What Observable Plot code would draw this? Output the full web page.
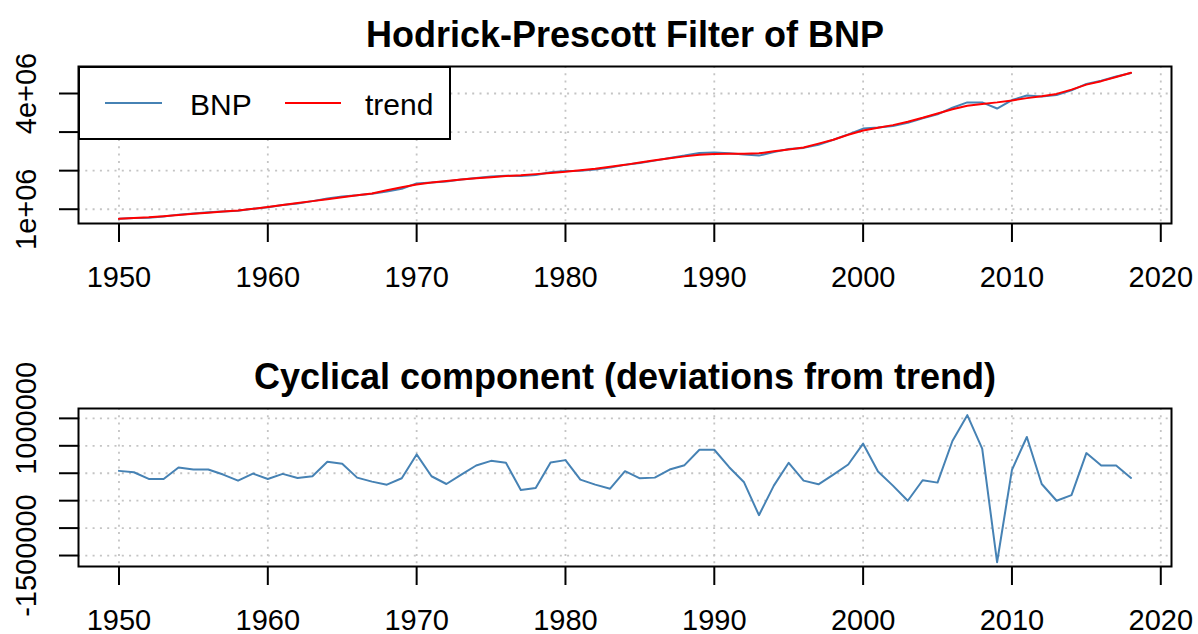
<!DOCTYPE html>
<html>
<head>
<meta charset="utf-8">
<script src="https://cdn.jsdelivr.net/npm/d3@7"></script>
<script src="https://cdn.jsdelivr.net/npm/@observablehq/plot@0.6"></script>
<style>
  html, body { margin: 0; padding: 0; background: white; }
  #chart { position: relative; width: 1198px; height: 634px; font-family: "Liberation Sans", Arial, Helvetica, sans-serif; }
  .panel { position: absolute; left: 0; }
  #legend { position: absolute; left: 78px; top: 66px; width: 373px; height: 74px; box-sizing: border-box; border: 2px solid black; background: white; }
</style>
</head>
<body>
<div id="chart">
  <div class="panel" id="topPanel" style="top:0"></div>
  <div class="panel" id="botPanel" style="top:317px"></div>
  <div id="legend"></div>
</div>
<script>
// ---------------- data ----------------
const years = d3.range(1950, 2019);

// Hodrick-Prescott trend
const trendValues = [
  0.75e6, 0.77e6, 0.79e6, 0.82e6, 0.85e6, 0.88e6, 0.91e6, 0.94e6, 0.97e6, 1.01e6,
  1.06e6, 1.11e6, 1.16e6, 1.21e6, 1.26e6, 1.31e6, 1.36e6, 1.41e6, 1.49e6, 1.57e6,
  1.64e6, 1.69e6, 1.73e6, 1.77e6, 1.80e6, 1.83e6, 1.86e6, 1.88e6, 1.91e6, 1.94e6,
  1.97e6, 2.01e6, 2.05e6, 2.10e6, 2.15e6, 2.21e6, 2.27e6, 2.32e6, 2.37e6, 2.41e6,
  2.43e6, 2.44e6, 2.44e6, 2.45e6, 2.50e6, 2.55e6, 2.60e6, 2.70e6, 2.80e6, 2.93e6,
  3.04e6, 3.11e6, 3.18e6, 3.27e6, 3.37e6, 3.48e6, 3.59e6, 3.68e6, 3.73e6, 3.77e6,
  3.82e6, 3.88e6, 3.93e6, 3.99e6, 4.10e6, 4.23e6, 4.32e6, 4.43e6, 4.54e6
];

// BNP
const bnpValues = [
  0.75e6, 0.77e6, 0.78e6, 0.81e6, 0.86e6, 0.89e6, 0.92e6, 0.94e6, 0.96e6, 1.01e6,
  1.05e6, 1.11e6, 1.15e6, 1.21e6, 1.28e6, 1.33e6, 1.36e6, 1.40e6, 1.46e6, 1.53e6,
  1.67e6, 1.69e6, 1.72e6, 1.77e6, 1.81e6, 1.85e6, 1.87e6, 1.86e6, 1.89e6, 1.96e6,
  1.99e6, 2.00e6, 2.03e6, 2.08e6, 2.15e6, 2.20e6, 2.26e6, 2.33e6, 2.39e6, 2.46e6,
  2.47e6, 2.45e6, 2.42e6, 2.39e6, 2.48e6, 2.56e6, 2.59e6, 2.67e6, 2.80e6, 2.94e6,
  3.09e6, 3.12e6, 3.16e6, 3.24e6, 3.36e6, 3.46e6, 3.63e6, 3.77e6, 3.77e6, 3.61e6,
  3.83e6, 3.95e6, 3.92e6, 3.96e6, 4.08e6, 4.25e6, 4.33e6, 4.44e6, 4.53e6
];

// Cyclical component
const cycleValues = [
    43000,   18000, -104000, -104000,  104000,   67000,   67000,  -24000, -135000,   -6000,
  -104000,  -12000,  -86000,  -55000,  208000,  171000,  -80000, -153000, -208000,  -92000,
   343000,  -55000, -196000,  -24000,  141000,  226000,  190000, -306000, -269000,  196000,
   239000, -116000, -208000, -282000,   37000,  -92000,  -80000,   67000,  147000,  428000,
   428000,  110000, -165000, -765000, -226000,  190000, -135000, -202000,  -24000,  159000,
   539000,   31000, -226000, -502000, -128000, -171000,  588000, 1059000,  447000, -1622000,
    61000,  661000, -196000, -502000, -398000,  367000,  141000,  141000,  -86000
];

const seriesNames = ["BNP", "trend"];
const seriesColors = ["steelblue", "red"];

const xTicks = [1950, 1960, 1970, 1980, 1990, 2000, 2010, 2020];
const topYTicks = [1e6, 2e6, 3e6, 4e6];
const topYLabelValues = [1e6, 4e6];
const topYLabelTexts = ["1e+06", "4e+06"];
const botYTicks = [-1500000, -1000000, -500000, 0, 500000, 1000000];
const botYLabelValues = [1000000, -1500000];
const botYLabelTexts = ["1000000", "-1500000"];

const topTitle = "Hodrick-Prescott Filter of BNP";
const botTitle = "Cyclical component (deviations from trend)";

// ---------------- tables ----------------
const bnpData = years.map((y, i) => ({year: y, value: bnpValues[i]}));
const trendData = years.map((y, i) => ({year: y, value: trendValues[i]}));
const cycleData = years.map((y, i) => ({year: y, value: cycleValues[i]}));

const FONT = '"Liberation Sans", Arial, Helvetica, sans-serif';
const gridStyle = {stroke: "#c4c4c4", strokeWidth: 1.8, strokeDasharray: "2,5.3"};
const xDomain = [1947.28, 2020.72];

function panel({yDomain, yTicks, labelValues, labelTexts, title, marginTop, marginBottom, lines}) {
  return Plot.plot({
    width: 1198,
    height: 317,
    marginLeft: 78,
    marginRight: 27,
    marginTop,
    marginBottom,
    x: {domain: xDomain, label: null},
    y: {domain: yDomain, label: null},
    style: {fontFamily: FONT, fontSize: "29px", color: "black", background: "white", overflow: "visible"},
    marks: [
      Plot.ruleX(xTicks, gridStyle),
      Plot.ruleY(yTicks, gridStyle),
      ...lines,
      Plot.frame({stroke: "black", strokeWidth: 2}),
      Plot.axisX({ticks: xTicks, tickSize: 19, tickPadding: 24, tickFormat: "d", strokeWidth: 2, fontSize: 29, label: null}),
      Plot.axisY({ticks: yTicks, tickSize: 19, tickFormat: () => "", strokeWidth: 2, label: null}),
      Plot.text(labelValues, {
        y: d => d,
        text: (d, i) => labelTexts[i],
        frameAnchor: "left",
        dx: -43,
        rotate: -90,
        lineAnchor: "bottom",
        textAnchor: "middle",
        fontSize: 29,
        fill: "black"
      }),
      Plot.text([title], {
        frameAnchor: "top",
        dy: -20,
        lineAnchor: "bottom",
        fontWeight: "bold",
        fontSize: 36,
        fill: "black"
      })
    ]
  });
}

const topPlot = panel({
  yDomain: [0.63e6, 4.70e6],
  yTicks: topYTicks,
  labelValues: topYLabelValues,
  labelTexts: topYLabelTexts,
  title: topTitle,
  marginTop: 66,
  marginBottom: 94,
  lines: [
    Plot.line(bnpData, {x: "year", y: "value", stroke: seriesColors[0], strokeWidth: 2}),
    Plot.line(trendData, {x: "year", y: "value", stroke: seriesColors[1], strokeWidth: 2})
  ]
});
document.getElementById("topPanel").appendChild(topPlot);

const botPlot = panel({
  yDomain: [-1.70e6, 1.18e6],
  yTicks: botYTicks,
  labelValues: botYLabelValues,
  labelTexts: botYLabelTexts,
  title: botTitle,
  marginTop: 91,
  marginBottom: 68,
  lines: [
    Plot.line(cycleData, {x: "year", y: "value", stroke: seriesColors[0], strokeWidth: 2})
  ]
});
document.getElementById("botPanel").appendChild(botPlot);

// ---------------- legend ----------------
const lg = d3.select("#legend").append("svg")
  .attr("width", 369).attr("height", 70)
  .style("position", "absolute").style("left", "0px").style("top", "0px")
  .style("font-family", FONT);
const entries = [
  {name: seriesNames[0], color: seriesColors[0], x0: 25, x1: 82, tx: 110},
  {name: seriesNames[1], color: seriesColors[1], x0: 205, x1: 261, tx: 285}
];
entries.forEach(e => {
  lg.append("line").attr("x1", e.x0).attr("x2", e.x1).attr("y1", 35).attr("y2", 35)
    .attr("stroke", e.color).attr("stroke-width", 2);
  lg.append("text").attr("x", e.tx).attr("y", 47).attr("font-size", 30).attr("fill", "black").text(e.name);
});
</script>
</body>
</html>
